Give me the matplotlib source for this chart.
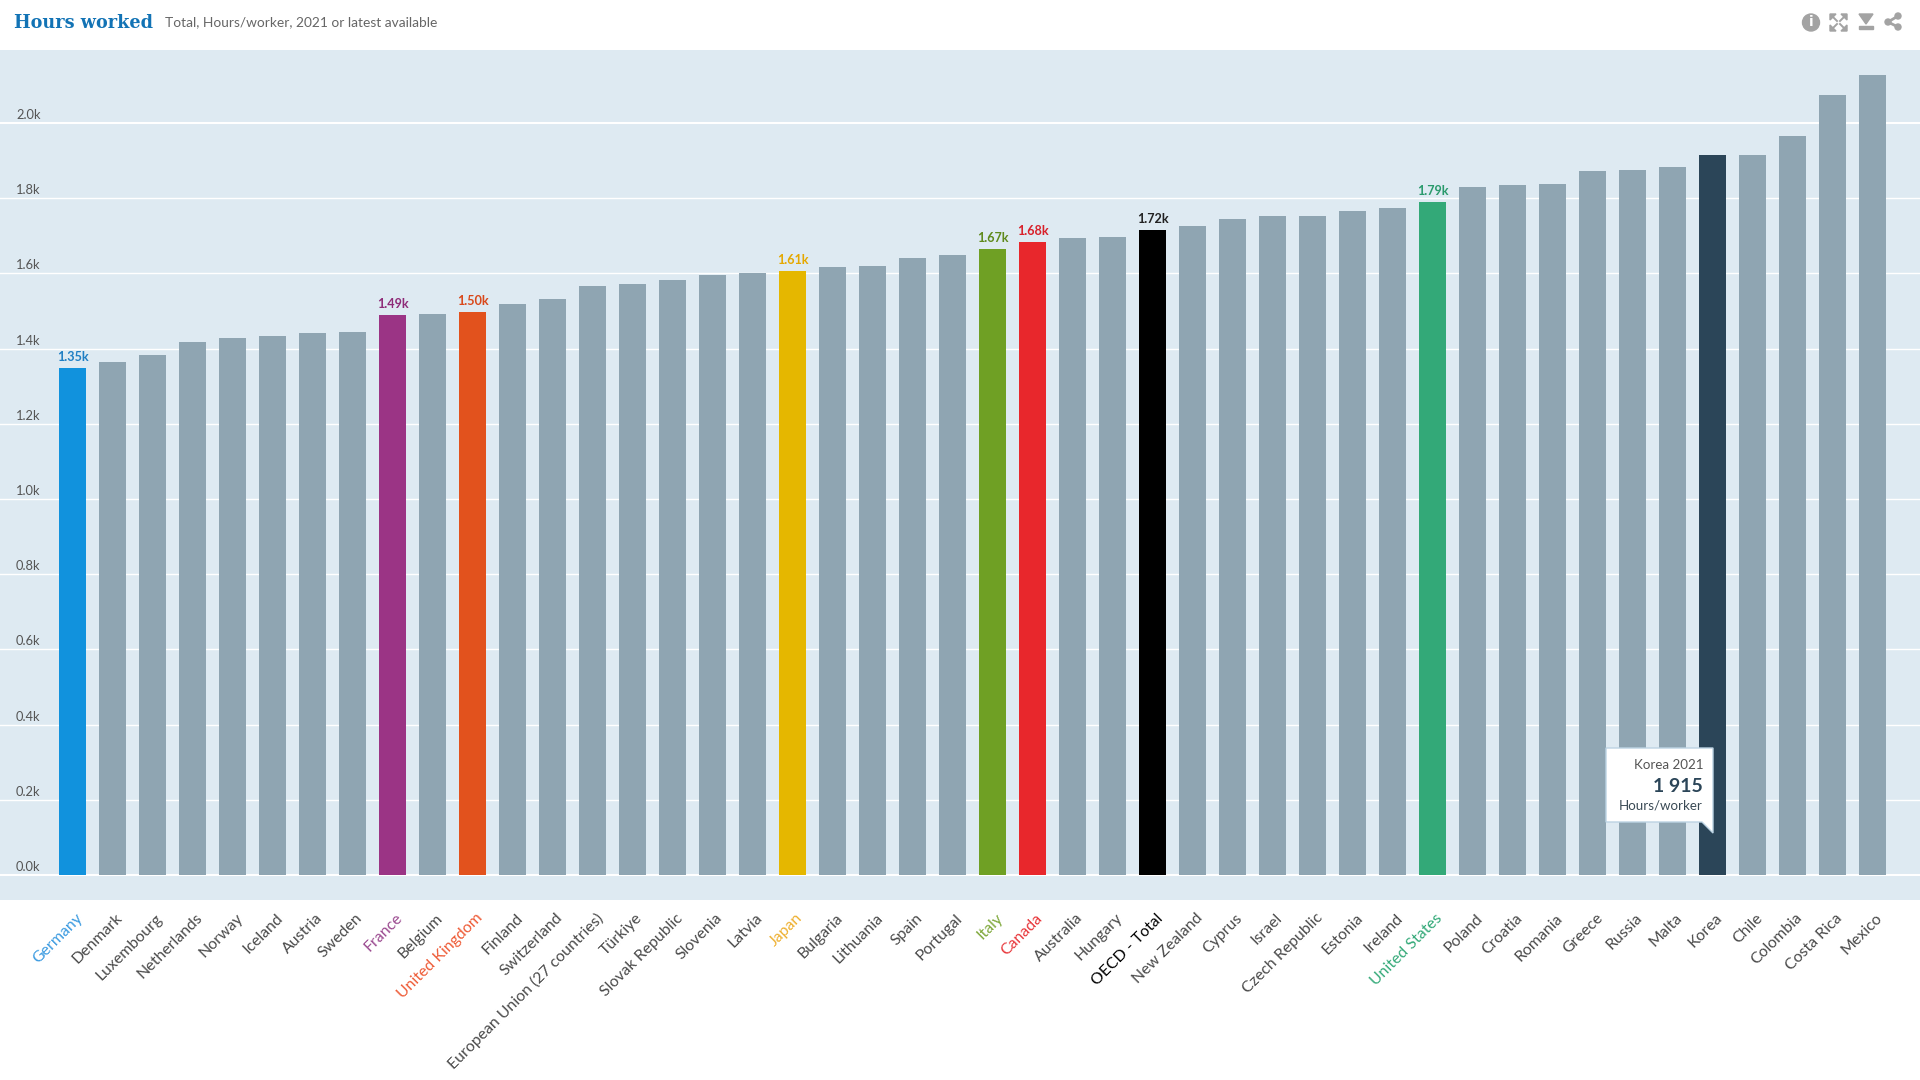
import matplotlib
matplotlib.use("Agg")
import matplotlib.pyplot as plt
from matplotlib.patches import Polygon, Circle, Rectangle

countries = ["Germany","Denmark","Luxembourg","Netherlands","Norway","Iceland","Austria","Sweden","France","Belgium",
 "United Kingdom","Finland","Switzerland","European Union (27 countries)","Türkiye","Slovak Republic","Slovenia","Latvia",
 "Japan","Bulgaria","Lithuania","Spain","Portugal","Italy","Canada","Australia","Hungary","OECD - Total","New Zealand",
 "Cyprus","Israel","Czech Republic","Estonia","Ireland","United States","Poland","Croatia","Romania","Greece","Russia",
 "Malta","Korea","Chile","Colombia","Costa Rica","Mexico"]
hours = [1349,1363,1382,1417,1427,1433,1441,1443,1490,1491,1497,1518,1533,1567,1571,1582,1596,1601,1607,1618,1619,1640,
 1649,1666,1684,1694,1697,1716,1727,1744,1752,1753,1766,1775,1791,1830,1835,1838,1872,1874,1883,1915,1915,1964,2074,2128]
bar_colors = {"Germany":"#1192dd","France":"#9b3485","United Kingdom":"#e2521d","Japan":"#e5b700","Italy":"#6fa024",
 "Canada":"#e8272c","OECD - Total":"#000000","United States":"#33a978","Korea":"#2b4558"}
label_colors = {"Germany":"#3a9ae0","France":"#9b4a90","United Kingdom":"#ee5a35","Japan":"#eeb030","Italy":"#7fa83a",
 "Canada":"#e8383c","OECD - Total":"#000000","United States":"#33a978"}
value_colors = {"Germany":"#1f7fc4","France":"#8e2b78","United Kingdom":"#d9481a","Japan":"#e5a800","Italy":"#5f8a1c",
 "Canada":"#d8202a","OECD - Total":"#222222","United States":"#2a9a6c"}
yticks = [0,200,400,600,800,1000,1200,1400,1600,1800,2000]
GRAY = "#8fa5b2"
FONT = "Lato"

fig = plt.figure(figsize=(19.2,10.8),dpi=100,facecolor="white")
ax = fig.add_axes([0,(1080-900)/1080,1,850/1080],facecolor="#deeaf2")
ax.set_xlim(-1.8125,46.1875)
ax.set_ylim(-66.5,2194)
for s in ax.spines.values(): s.set_visible(False)
ax.tick_params(left=False,bottom=False,labelleft=False,labelbottom=False)
for t in yticks:
    ax.axhline(t,color="white",lw=1.0 if t not in (0,2000) else 1.5,zorder=1)
    ax.annotate(f"{t/1000:.1f}k",(0,t),xycoords=("axes fraction","data"),xytext=(16,2),textcoords="offset pixels",
                fontsize=9.3,color="#555555",family=FONT,va="bottom",ha="left")
xs = list(range(len(countries)))
ax.bar(xs,hours,width=0.675,color=[bar_colors.get(c,GRAY) for c in countries],zorder=2)

for x,c,v in zip(xs,countries,hours):
    if c in value_colors:
        ax.annotate(f"{v/1000:.2f}k",(x,v),xytext=(0,5),textcoords="offset pixels",ha="center",va="bottom",
                    fontsize=9.1,fontweight="bold",color=value_colors[c],family=FONT,zorder=4)
    ax.annotate(c,(x,0),xycoords=("data","axes fraction"),xytext=(3,-11),textcoords="offset pixels",
                rotation=45,rotation_mode="anchor",ha="right",va="top",fontsize=11.45,
                color=label_colors.get(c,"#4a4a4a"),family=FONT,annotation_clip=False)

ov = fig.add_axes([0,0,1,1],facecolor="none")
ov.set_xlim(0,1920); ov.set_ylim(1080,0); ov.axis("off")
ov.text(14,23.5,"Hours worked",fontsize=12.7,fontweight="bold",family="DejaVu Serif",color="#1273b5",va="center",ha="left")
ov.text(165,22,"Total, Hours/worker, 2021 or latest available",fontsize=9.9,family=FONT,color="#666666",va="center",ha="left")

# toolbar icons
ic = "#a3a3a3"
ov.add_patch(Circle((1811,22.5),8.5,color=ic))
ov.text(1811,22.5,"i",color="white",fontsize=10,fontweight="bold",family="DejaVu Sans",ha="center",va="center")
for sx,sy in [(-1,-1),(1,-1),(-1,1),(1,1)]:
    cx,cy=1838.5+sx*8.5,22.5+sy*8.5
    ov.add_patch(Polygon([(cx,cy),(cx-sx*6,cy),(cx,cy-sy*6)],color=ic))
    ov.plot([cx-sx*2,cx-sx*7],[cy-sy*2,cy-sy*7],color=ic,lw=1.4)
ov.add_patch(Polygon([(1859,14),(1873,14),(1866,24)],color=ic))
ov.add_patch(Rectangle((1859,26),14,3,color=ic))
ov.plot([1898,1888,1898],[16,22,27],color=ic,lw=2)
for p in [(1898,16),(1888,22),(1898,27)]:
    ov.add_patch(Circle(p,3,color=ic))

# tooltip
ov.add_patch(Polygon([(1606,748),(1713,748),(1713,833),(1702,822),(1606,822)],closed=True,
                     facecolor="white",edgecolor="#bcd3e3",lw=1,zorder=5))
ov.text(1703,765,"Korea 2021",fontsize=9.6,family=FONT,color="#555555",ha="right",va="center",zorder=6)
ov.text(1703,786,"1 915",fontsize=14,fontweight="bold",family=FONT,color="#2b4558",ha="right",va="center",zorder=6)
ov.text(1703,805,"Hours/worker",fontsize=9.6,family=FONT,color="#3a4a55",ha="right",va="center",zorder=6)

fig.savefig("out.png",dpi=100,facecolor="white")
